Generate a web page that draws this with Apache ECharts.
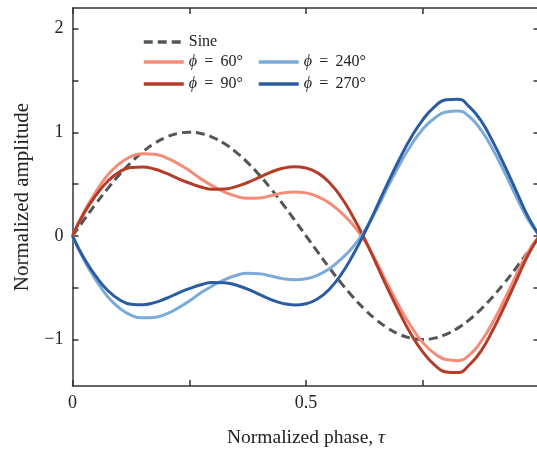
<!DOCTYPE html>
<html>
<head>
<meta charset="utf-8">
<script src="https://cdn.jsdelivr.net/npm/echarts@6/dist/echarts.min.js"></script>
<style>html,body{margin:0;padding:0;background:#fff}#c{width:537px;height:450px}</style>
</head>
<body>
<div id="c"></div>
<script>
const tau = [0,0.025,0.05,0.075,0.1,0.125,0.15,0.175,0.2,0.225,0.25,0.275,0.3,0.325,0.35,0.375,0.4,0.425,0.45,0.475,0.5,0.525,0.55,0.575,0.6,0.625,0.65,0.675,0.7,0.725,0.75,0.775,0.8,0.825,0.85,0.875,0.9,0.925,0.95,0.975,1];
const sine = [0,0.156,0.309,0.454,0.588,0.707,0.809,0.891,0.951,0.988,1,0.988,0.951,0.891,0.809,0.707,0.588,0.454,0.309,0.156,0,-0.156,-0.309,-0.454,-0.588,-0.707,-0.809,-0.891,-0.951,-0.988,-1,-0.988,-0.951,-0.891,-0.809,-0.707,-0.588,-0.454,-0.309,-0.156,0];
const phi60 = [0,0.235,0.425,0.585,0.695,0.765,0.792,0.788,0.756,0.70,0.63,0.55,0.482,0.425,0.383,0.362,0.365,0.388,0.413,0.424,0.415,0.38,0.318,0.225,0.11,-0.045,-0.245,-0.47,-0.685,-0.875,-1.03,-1.135,-1.195,-1.205,-1.15,-1.02,-0.835,-0.615,-0.38,-0.16,0];
const phi90 = [0,0.22,0.39,0.525,0.615,0.66,0.665,0.645,0.605,0.555,0.51,0.472,0.45,0.452,0.475,0.515,0.565,0.615,0.652,0.667,0.655,0.608,0.515,0.375,0.19,-0.025,-0.265,-0.51,-0.74,-0.95,-1.12,-1.245,-1.315,-1.32,-1.245,-1.11,-0.91,-0.68,-0.435,-0.19,0];
const phi240 = [0,-0.235,-0.425,-0.585,-0.695,-0.765,-0.792,-0.788,-0.756,-0.70,-0.63,-0.55,-0.482,-0.425,-0.383,-0.362,-0.365,-0.388,-0.413,-0.424,-0.415,-0.38,-0.318,-0.225,-0.11,0.045,0.245,0.47,0.685,0.875,1.03,1.135,1.195,1.205,1.15,1.02,0.835,0.615,0.38,0.16,0];
const phi270 = [0,-0.22,-0.39,-0.525,-0.615,-0.66,-0.665,-0.645,-0.605,-0.555,-0.51,-0.472,-0.45,-0.452,-0.475,-0.515,-0.565,-0.615,-0.652,-0.667,-0.655,-0.608,-0.515,-0.375,-0.19,0.025,0.265,0.51,0.74,0.95,1.12,1.245,1.315,1.32,1.245,1.11,0.91,0.68,0.435,0.19,0];
const yTicks = [-1,-0.5,0,0.5,1,1.5,2];
const yLabels = [-1,0,1,2];
const xLabels = [0,0.5];
const names = ['Sine','\u03D5 \u2009=\u2009 60°','\u03D5 \u2009=\u2009 90°','\u03D5 \u2009=\u2009 240°','\u03D5 \u2009=\u2009 270°'];
const colors = ['#555555','#F58C78','#B33D29','#7BABD8','#2B5CA2'];

const FONT = 'Liberation Serif';
const toPairs = arr => tau.map((t,i)=>[t,arr[i]]);
const fmtLegend = n => n.replace('\u03D5','{i|\u03D5}');
const richI = {i:{fontStyle:'italic',fontFamily:FONT,fontSize:16,color:'#222'}};
const axisColor = '#333';

function legendAt(items, left, top){
  return {
    data: items, left: left, top: top, orient:'vertical', itemWidth:40, itemHeight:14, itemGap:6,
    padding:0, formatter: fmtLegend,
    itemStyle:{opacity:0, borderWidth:0},
    lineStyle:{width:3.5},
    textStyle:{fontFamily:FONT,fontSize:16,color:'#222',rich:richI}
  };
}

const allSeries = [sine,phi60,phi90,phi240,phi270].map((arr,k)=>({
  name: names[k], type:'line', data: toPairs(arr), smooth:0.5, symbol:'none', showSymbol:false,
  lineStyle:{color:colors[k], width:3, type: k===0 ? [9,5] : 'solid'},
  itemStyle:{color:colors[k]}, z: 2+k
}));

const chart = echarts.init(document.getElementById('c'), null, {renderer:'canvas'});
chart.setOption({
  animation:false,
  backgroundColor:'#fff',
  grid:{left:72.5, top:8, width:467, height:378, outerBoundsMode:'none', containLabel:false},
  legend:[
    legendAt(['Sine'],142,34),
    legendAt([names[1],names[2]],142,54),
    legendAt([names[3],names[4]],257,54)
  ],
  xAxis:[{
    type:'value', min:0, max:1, interval:0.25,
    name:'Normalized phase, {i|\u03C4}', nameLocation:'middle', nameGap:42,
    nameTextStyle:{fontFamily:FONT,fontSize:19.5,color:'#222',rich:{i:{fontStyle:'italic',fontFamily:FONT,fontSize:19.5,color:'#222'}}},
    axisLine:{onZero:false, lineStyle:{color:axisColor,width:1.5}},
    axisTick:{inside:true,length:6,lineStyle:{color:axisColor,width:1.5}},
    axisLabel:{customValues:xLabels, margin:8, fontFamily:FONT, fontSize:18, color:'#222', formatter:v=>String(v)},
    splitLine:{show:false}
  },{
    type:'value', position:'top', min:0, max:1, interval:0.25,
    axisLine:{onZero:false, lineStyle:{color:axisColor,width:1.5}},
    axisTick:{inside:true,length:6,lineStyle:{color:axisColor,width:1.5}},
    axisLabel:{show:false}, splitLine:{show:false}
  }],
  yAxis:[{
    type:'value', min:-1.45, max:2.2,
    name:'Normalized amplitude', nameLocation:'middle', nameGap:40,
    nameTextStyle:{fontFamily:FONT,fontSize:21,color:'#222'},
    axisLine:{onZero:false, lineStyle:{color:axisColor,width:1.5}},
    axisTick:{inside:true,length:6,customValues:yTicks,lineStyle:{color:axisColor,width:1.5}},
    axisLabel:{customValues:yLabels, margin:9, fontFamily:FONT, fontSize:18, color:'#222',
      formatter:v=> v<0 ? '\u2212'+Math.abs(v) : String(v)},
    splitLine:{show:false}
  },{
    type:'value', position:'right', min:-1.45, max:2.2,
    axisLine:{onZero:false, lineStyle:{color:axisColor,width:1.5}},
    axisTick:{inside:true,length:6,customValues:yTicks,lineStyle:{color:axisColor,width:1.5}},
    axisLabel:{show:false}, splitLine:{show:false}
  }],
  series: allSeries
});
</script>
</body>
</html>
